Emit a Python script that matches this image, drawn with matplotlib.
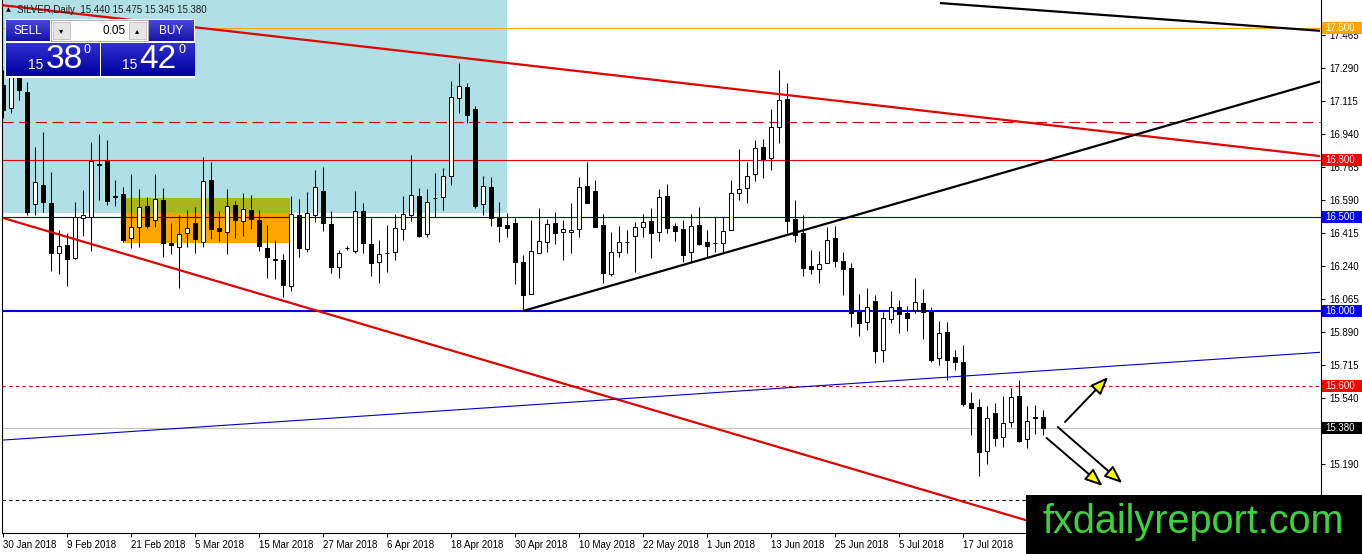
import numpy as np
import matplotlib
matplotlib.use('Agg')
import matplotlib.pyplot as plt
import matplotlib.transforms as mtransforms
from matplotlib.patches import Rectangle, FancyArrowPatch

W, H = 1362, 554

# -------------------------------------------------------------------------
# Data (SILVER daily)
# -------------------------------------------------------------------------
opens = [
  17.198, 17.076, 17.250, 17.161, 16.567, 16.668, 16.572, 16.307, 16.350, 16.281,
  16.493, 16.498, 16.780, 16.795, 16.609, 16.620, 16.387, 16.445, 16.556, 16.482,
  16.588, 16.360, 16.339, 16.413, 16.466, 16.366, 16.694, 16.440, 16.419, 16.562,
  16.477, 16.535, 16.482, 16.334, 16.276, 16.270, 16.132, 16.509, 16.329, 16.509,
  16.636, 16.461, 16.233, 16.336, 16.318, 16.530, 16.355, 16.260, 16.309, 16.313,
  16.435, 16.509, 16.609, 16.408, 16.601, 16.604, 16.716, 17.129, 17.187, 17.071,
  16.567, 16.657, 16.493, 16.456, 16.466, 16.260, 16.090, 16.307, 16.366, 16.466,
  16.419, 16.419, 16.435, 16.663, 16.636, 16.456, 16.196, 16.313, 16.368, 16.397,
  16.445, 16.477, 16.419, 16.609, 16.450, 16.435, 16.313, 16.456, 16.366, 16.362,
  16.360, 16.429, 16.625, 16.652, 16.726, 16.869, 16.811, 16.975, 17.124, 16.488,
  16.413, 16.238, 16.223, 16.254, 16.387, 16.265, 16.228, 15.995, 15.942, 16.053,
  15.793, 15.958, 16.021, 15.989, 16.005, 16.042, 15.995, 15.751, 15.889, 15.756,
  15.730, 15.512, 15.491, 15.258, 15.459, 15.332, 15.412, 15.550, 15.322, 15.438,
  15.440,
]
highs = [
  17.277, 17.320, 17.300, 17.214, 16.869, 16.949, 16.737, 16.429, 16.413, 16.578,
  16.641, 16.896, 16.938, 16.906, 16.694, 16.657, 16.726, 16.647, 16.604, 16.726,
  16.652, 16.466, 16.509, 16.535, 16.551, 16.816, 16.790, 16.530, 16.647, 16.583,
  16.625, 16.615, 16.535, 16.456, 16.376, 16.302, 16.609, 16.594, 16.631, 16.747,
  16.763, 16.530, 16.323, 16.345, 16.636, 16.572, 16.493, 16.376, 16.456, 16.514,
  16.609, 16.827, 16.652, 16.647, 16.731, 16.758, 17.219, 17.314, 17.208, 17.087,
  16.716, 16.710, 16.578, 16.519, 16.493, 16.297, 16.482, 16.546, 16.488, 16.525,
  16.482, 16.572, 16.710, 16.790, 16.694, 16.514, 16.419, 16.450, 16.429, 16.472,
  16.514, 16.546, 16.647, 16.673, 16.466, 16.482, 16.514, 16.551, 16.429, 16.498,
  16.498, 16.694, 16.859, 16.790, 16.906, 16.912, 17.071, 17.277, 17.208, 16.588,
  16.509, 16.323, 16.318, 16.445, 16.450, 16.313, 16.254, 16.090, 16.122, 16.085,
  15.995, 16.106, 16.058, 16.026, 16.175, 16.117, 16.021, 15.947, 15.942, 15.793,
  15.820, 15.571, 15.534, 15.497, 15.512, 15.550, 15.592, 15.634, 15.497, 15.502,
  15.475,
]
lows = [
  17.023, 17.049, 17.118, 16.509, 16.509, 16.525, 16.212, 16.196, 16.132, 16.276,
  16.397, 16.318, 16.588, 16.562, 16.556, 16.366, 16.334, 16.339, 16.440, 16.445,
  16.286, 16.302, 16.122, 16.339, 16.307, 16.339, 16.382, 16.371, 16.302, 16.387,
  16.397, 16.435, 16.318, 16.175, 16.170, 16.074, 16.106, 16.286, 16.313, 16.472,
  16.424, 16.201, 16.175, 16.325, 16.307, 16.307, 16.185, 16.148, 16.207, 16.270,
  16.376, 16.477, 16.392, 16.392, 16.498, 16.535, 16.668, 17.049, 16.996, 16.546,
  16.509, 16.450, 16.366, 16.392, 16.143, 16.000, 16.090, 16.307, 16.313, 16.355,
  16.270, 16.307, 16.392, 16.572, 16.445, 16.148, 16.185, 16.286, 16.307, 16.207,
  16.392, 16.281, 16.371, 16.413, 16.371, 16.260, 16.260, 16.350, 16.286, 16.313,
  16.307, 16.429, 16.588, 16.572, 16.689, 16.705, 16.747, 16.890, 16.413, 16.366,
  16.185, 16.196, 16.148, 16.254, 16.233, 16.085, 15.915, 15.868, 15.899, 15.724,
  15.730, 15.936, 15.883, 15.894, 15.989, 15.852, 15.730, 15.714, 15.634, 15.687,
  15.497, 15.343, 15.126, 15.189, 15.285, 15.279, 15.385, 15.306, 15.274, 15.348,
  15.345,
]
closes = [
  17.065, 17.250, 17.171, 16.525, 16.684, 16.578, 16.307, 16.344, 16.276, 16.498,
  16.509, 16.795, 16.775, 16.583, 16.604, 16.376, 16.445, 16.551, 16.450, 16.594,
  16.360, 16.350, 16.408, 16.440, 16.382, 16.689, 16.435, 16.424, 16.556, 16.482,
  16.541, 16.488, 16.344, 16.286, 16.272, 16.138, 16.514, 16.334, 16.519, 16.657,
  16.466, 16.233, 16.307, 16.332, 16.530, 16.360, 16.254, 16.302, 16.305, 16.440,
  16.514, 16.615, 16.397, 16.578, 16.597, 16.716, 17.134, 17.192, 17.039, 16.556,
  16.663, 16.493, 16.450, 16.440, 16.260, 16.085, 16.318, 16.371, 16.461, 16.413,
  16.435, 16.429, 16.657, 16.572, 16.445, 16.201, 16.313, 16.366, 16.364, 16.445,
  16.472, 16.413, 16.604, 16.440, 16.424, 16.297, 16.450, 16.355, 16.344, 16.358,
  16.424, 16.625, 16.647, 16.716, 16.864, 16.806, 16.975, 17.118, 16.477, 16.403,
  16.228, 16.223, 16.249, 16.376, 16.265, 16.223, 15.989, 15.936, 16.021, 15.788,
  15.963, 16.021, 15.984, 15.963, 16.048, 15.995, 15.740, 15.883, 15.740, 15.730,
  15.507, 15.486, 15.253, 15.433, 15.327, 15.406, 15.544, 15.311, 15.417, 15.433,
  15.380,
]

date_labels = [
  '30 Jan 2018', '9 Feb 2018', '21 Feb 2018', '5 Mar 2018', '15 Mar 2018',
  '27 Mar 2018', '6 Apr 2018', '18 Apr 2018', '30 Apr 2018', '10 May 2018',
  '22 May 2018', '1 Jun 2018', '13 Jun 2018', '25 Jun 2018', '5 Jul 2018',
  '17 Jul 2018', '27 Jul 2018',
]
# visible price scale labels (15.365 and 15.015 sit under the tag / logo)
price_ticks = [17.465, 17.290, 17.115, 16.940, 16.765, 16.590, 16.415, 16.240,
               16.065, 15.890, 15.715, 15.540, 15.190]

# price tags on the right axis
tag_prices = [17.500, 16.800, 16.500, 16.000, 15.600, 15.380]
tag_colors = ['#FFA500', '#FF0000', '#0000FF', '#0000FF', '#FF0000', '#000000']

# drawn objects: (bar index, price) pairs
zone_blue = (-5.0, 63.0, 16.52, 17.80)
zone_orange = (15.0, 35.9, 16.36, 16.60)
trend_red_top = [(-0.375, 17.622), (164.625, 16.821)]
trend_red_low = [(0.0, 16.493), (164.625, 14.431)]
trend_black_up = [(65.0, 16.000), (164.625, 17.216)]
trend_black_top = [(117.1, 17.632), (164.625, 17.485)]
trend_blue = [(-0.375, 15.315), (164.625, 15.781)]
arrows = [
  [(132.75, 15.412), (138.15, 15.650)],
  [(131.85, 15.385), (139.90, 15.088)],
  [(130.45, 15.327), (137.45, 15.073)],
]


def main():
  plt.rcParams['font.family'] = ['Liberation Sans', 'DejaVu Sans']

  fig = plt.figure(figsize=(W / 100, H / 100), dpi=100, facecolor='white')
  ax = fig.add_axes([2 / W, 21 / H, 1319 / W, 533 / H])
  ax.set_xlim(-0.125, 164.75)
  ax.set_ylim(14.8235, 17.6481)

  for side in ('left', 'bottom', 'right'):
    ax.spines[side].set_color('black')
    ax.spines[side].set_linewidth(0.8)
  ax.spines['top'].set_visible(False)

  # axes ticks
  ax.yaxis.tick_right()
  ax.set_yticks(price_ticks)
  ax.set_yticklabels([f'{p:.3f}' for p in price_ticks])
  ax.tick_params(axis='y', direction='out', length=3, width=0.7,
                 labelsize=7, pad=3)
  ax.set_xticks(np.arange(0, 8 * len(date_labels), 8))
  ax.set_xticklabels(date_labels)
  ax.tick_params(axis='x', direction='out', length=3, width=0.7,
                 labelsize=7, pad=2)
  for lbl in ax.get_xticklabels():
    lbl.set_horizontalalignment('left')

  # -------------------------------------------------------------------------
  # Background zones
  # -------------------------------------------------------------------------
  x0, x1, y0, y1 = zone_blue
  ax.add_patch(Rectangle((x0, y0), x1 - x0, y1 - y0, fc='#B0DFE5',
                         ec='none', zorder=0))
  x0, x1, y0, y1 = zone_orange
  ax.add_patch(Rectangle((x0, y0), x1 - x0, y1 - y0, fc='#FFA500',
                         ec='none', zorder=0.5))
  ax.add_patch(Rectangle((x0, zone_blue[2]), x1 - x0, y1 - zone_blue[2],
                         fc='#AAB41E', ec='none', zorder=0.6))

  # -------------------------------------------------------------------------
  # Horizontal levels
  # -------------------------------------------------------------------------
  ax.axhline(17.5, color='#FFA500', lw=0.8, zorder=1)
  ax.axhline(17.0, color='#D00000', lw=0.8, dashes=(10, 5), zorder=1)
  ax.axhline(16.8, color='#E00000', lw=0.8, zorder=1)
  ax.axhline(16.5, color='#0000C0', lw=0.8, zorder=1)
  ax.axhline(16.0, color='#0000E0', lw=1.5, zorder=1)
  ax.axhline(15.6, color='#D00000', lw=0.8, dashes=(3, 3), zorder=1)
  ax.axhline(15.38, color='#C0C0C0', lw=0.8, zorder=1)
  ax.axhline(15.0, color='black', lw=0.8, dashes=(3, 3), zorder=1)

  # -------------------------------------------------------------------------
  # Candles
  # -------------------------------------------------------------------------
  o = np.array(opens)
  h = np.array(highs)
  l = np.array(lows)
  c = np.array(closes)
  x = np.arange(len(o))
  up = c >= o
  ax.vlines(x, l, h, color='black', lw=0.75, zorder=3)
  body_lo = np.minimum(o, c)
  body_h = np.maximum(np.abs(c - o), 0.002)
  ax.bar(x, body_h, bottom=body_lo, width=0.55,
         color=np.where(up, 'white', 'black'), edgecolor='black',
         linewidth=0.7, zorder=4)

  # -------------------------------------------------------------------------
  # Trend lines and arrows
  # -------------------------------------------------------------------------
  for line, col, lw in ((trend_red_top, '#E00000', 1.6),
                        (trend_red_low, '#E00000', 1.6),
                        (trend_black_up, 'black', 1.6),
                        (trend_black_top, 'black', 1.6),
                        (trend_blue, '#0000C0', 0.8)):
    xs, ys = zip(*line)
    ax.plot(xs, ys, color=col, lw=lw, zorder=5, solid_capstyle='butt')

  for start, end in arrows:
    ax.add_patch(FancyArrowPatch(
      start, end, arrowstyle='-|>,head_length=0.4,head_width=0.16',
      mutation_scale=27, fc='#FFFF00', ec='black', lw=1.4,
      shrinkA=0, shrinkB=0, zorder=6))

  # price tags: box from the axis line to the figure edge
  tr = mtransforms.blended_transform_factory(ax.transAxes, ax.transData)
  tag_w = 41 / 1319
  tag_h = 12 / 188.7
  for p, col in zip(tag_prices, tag_colors):
    ax.add_patch(Rectangle((1.0008, p - tag_h / 2), tag_w, tag_h,
                           transform=tr, fc=col, ec='none',
                           clip_on=False, zorder=9))
    ax.text(1.0035, p, f'{p:.3f}', transform=tr, ha='left', va='center',
            fontsize=7, color='white', clip_on=False, zorder=10)

  # -------------------------------------------------------------------------
  # Overlays in pixel coordinates
  # -------------------------------------------------------------------------
  def px_rect(px, py, pw, ph, **kw):
    kw.setdefault('ec', 'none')
    kw.setdefault('zorder', 1.5)
    fig.add_artist(Rectangle((px / W, 1 - (py + ph) / H), pw / W, ph / H,
                             transform=fig.transFigure, **kw))

  def px_text(px, py, s, **kw):
    kw.setdefault('zorder', 5)
    fig.text(px / W, 1 - py / H, s, **kw)

  def grad_box(px, py, pw, ph, top, bottom):
    gax = fig.add_axes([px / W, 1 - (py + ph) / H, pw / W, ph / H], zorder=2)
    t = np.array(matplotlib.colors.to_rgb(top))
    b = np.array(matplotlib.colors.to_rgb(bottom))
    k = np.linspace(0, 1, 32)[:, None]
    img = (t * (1 - k) + b * k)[:, None, :]
    gax.imshow(img, aspect='auto', extent=(0, 1, 0, 1))
    gax.set_axis_off()

  # title
  px_text(6, 10, '\u25B2', fontsize=4.5, va='center', family=['DejaVu Sans'])
  px_text(17, 10, 'SILVER,Daily  15.440 15.475 15.345 15.380',
          fontsize=7, va='center', color='#202020')

  # trade panel
  px_rect(5, 19, 190, 59, fc='white')
  grad_box(6, 20, 44, 21, '#4646D8', '#1414A8')
  grad_box(149, 20, 45, 21, '#4646D8', '#1414A8')
  grad_box(6, 43, 93, 33, '#3030D0', '#0000A0')
  grad_box(101, 43, 93, 33, '#3030D0', '#0000A0')
  px_rect(51, 20, 97, 21, fc='white', ec='#A0A0A0', lw=0.6)
  px_rect(53, 22, 17, 17, fc='#E6E6E6', ec='#B4B4B4', lw=0.5)
  px_rect(129, 22, 17, 17, fc='#E6E6E6', ec='#B4B4B4', lw=0.5)
  px_text(61.5, 30.5, '\u25BE', fontsize=6, ha='center', va='center',
          family=['DejaVu Sans'])
  px_text(137.5, 30.5, '\u25B4', fontsize=6, ha='center', va='center',
          family=['DejaVu Sans'])
  px_text(126, 30.5, '0.05', fontsize=8.5, ha='right', va='center')
  px_text(28, 30.5, 'SELL', fontsize=8.5, ha='center', va='center',
          color='white')
  px_text(171, 30.5, 'BUY', fontsize=8.5, ha='center', va='center',
          color='white')
  px_text(36, 65, '15', fontsize=10, ha='center', va='center', color='white')
  px_text(64, 59, '38', fontsize=24, ha='center', va='center', color='white')
  px_text(87, 50, '0', fontsize=9, ha='center', va='center', color='white')
  px_text(130, 65, '15', fontsize=10, ha='center', va='center', color='white')
  px_text(158, 59, '42', fontsize=24, ha='center', va='center', color='white')
  px_text(182, 50, '0', fontsize=9, ha='center', va='center', color='white')

  # watermark box
  px_rect(1026, 495, 336, 59, fc='black', zorder=4)
  px_text(1193, 522, 'fxdailyreport.com', fontsize=28.5, ha='center',
          va='center', color='#3DD23D', zorder=6)

  fig.savefig('out.png', dpi=100, facecolor='white')


if __name__ == '__main__':
  main()
